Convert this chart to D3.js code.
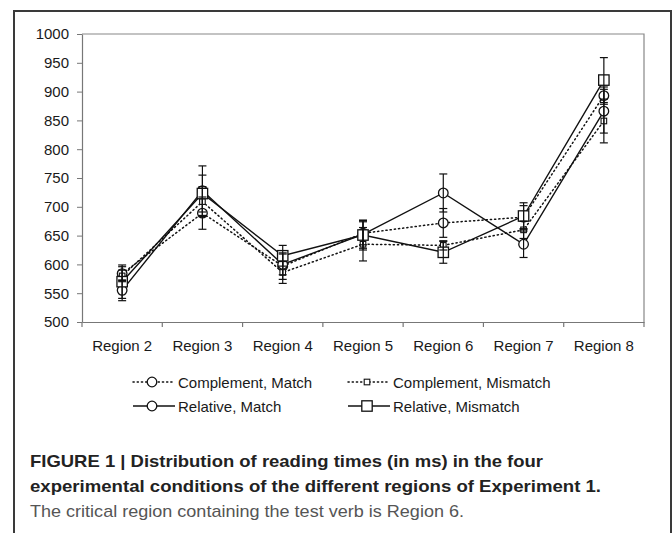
<!DOCTYPE html>
<html>
<head>
<meta charset="utf-8">
<script src="https://cdn.jsdelivr.net/npm/d3@7/dist/d3.min.js"></script>
<style>
  html, body { margin: 0; padding: 0; background: #fff; }
  svg { display: block; }
  text { font-family: Arial, "Liberation Sans", sans-serif; }
</style>
</head>
<body>
<script>
const categories = ["Region 2", "Region 3", "Region 4", "Region 5", "Region 6", "Region 7", "Region 8"];
const yTicks = [500, 550, 600, 650, 700, 750, 800, 850, 900, 950, 1000];
const seriesNames = ["Complement, Match", "Complement, Mismatch", "Relative, Match", "Relative, Mismatch"];

const compMatch        = [584, 689, 597, 654, 672, 682, 893];
const compMatchErr     = [12, 28, 23, 20, 25, 20, 15];
const compMismatch     = [580, 709, 586, 635, 633, 660, 849];
const compMismatchErr  = [10, 26, 19, 29, 8, 15, 38];
const relMatch         = [555, 728, 600, 652, 724, 635, 866];
const relMatchErr      = [18, 43, 18, 24, 33, 23, 38];
const relMismatch      = [570, 723, 615, 651, 621, 684, 920];
const relMismatchErr   = [29, 32, 18, 26, 19, 23, 39];

const captionBold = ["FIGURE 1 | Distribution of reading times (in ms) in the four",
                     "experimental conditions of the different regions of Experiment 1."];
const captionPlain = "The critical region containing the test verb is Region 6.";

(function () {
const series = [
  { name: seriesNames[0], values: compMatch, errs: compMatchErr, dotted: true, marker: "circle" },
  { name: seriesNames[1], values: compMismatch, errs: compMismatchErr, dotted: true, marker: "smallsq" },
  { name: seriesNames[2], values: relMatch, errs: relMatchErr, dotted: false, marker: "circle" },
  { name: seriesNames[3], values: relMismatch, errs: relMismatchErr, dotted: false, marker: "bigsq" }
];

const W = 672, H = 533;
const svg = d3.select("body").append("svg").attr("width", W).attr("height", H);
svg.append("rect").attr("width", W).attr("height", H).attr("fill", "#fff");

// outer frame
svg.append("rect").attr("x", 14).attr("y", 11).attr("width", 657).attr("height", 560)
  .attr("fill", "none").attr("stroke", "#3a3a3a").attr("stroke-width", 2);

const pL = 82, pR = 644, pT = 34, pB = 322;
const x = d3.scaleBand().domain(categories).range([pL, pR]);
const y = d3.scaleLinear().domain([500, 1000]).range([pB, pT]);
const cx = c => x(c) + x.bandwidth() / 2;

// plot border (top/right)
svg.append("path").attr("d", `M${pL},${pT}H${pR}V${pB}`)
  .attr("fill", "none").attr("stroke", "#888").attr("stroke-width", 1.2);

// y axis
const ya = svg.append("g").attr("transform", `translate(${pL},0)`)
  .call(d3.axisLeft(y).tickValues(yTicks).tickFormat(d3.format("d"))
    .tickSize(5).tickSizeOuter(0).tickPadding(8));
ya.select(".domain").attr("stroke", "#777").attr("stroke-width", 1.2);
ya.selectAll(".tick line").attr("stroke", "#777");
ya.selectAll("text").attr("font-size", 15).attr("fill", "#1a1a1a").style("font-family", "Arial, 'Liberation Sans', sans-serif");

// x axis
const xa = svg.append("g").attr("transform", `translate(0,${pB})`)
  .call(d3.axisBottom(x).tickSize(0).tickPadding(18).tickSizeOuter(0));
xa.select(".domain").attr("stroke", "#777").attr("stroke-width", 1.2);
xa.selectAll("text").attr("font-size", 15).attr("fill", "#1a1a1a").style("font-family", "Arial, 'Liberation Sans', sans-serif");
const bounds = categories.map(c => x(c)).concat([x.range()[1]]);
xa.selectAll("line.bt").data(bounds).enter().append("line").attr("class", "bt")
  .attr("x1", d => d).attr("x2", d => d).attr("y1", 0).attr("y2", 5)
  .attr("stroke", "#777").attr("stroke-width", 1.2);

// lines
const line = d3.line().x((d, i) => cx(categories[i])).y(d => y(d));
const plot = svg.append("g");
series.forEach(s => {
  plot.append("path").attr("d", line(s.values)).attr("fill", "none")
    .attr("stroke", "#111").attr("stroke-width", s.dotted ? 1.5 : 1.4)
    .attr("stroke-dasharray", s.dotted ? "1.2,3" : null)
    .attr("stroke-linecap", s.dotted ? "round" : "butt");
});

function drawMarker(g, type, px, py) {
  if (type === "circle") {
    g.append("circle").attr("cx", px).attr("cy", py).attr("r", 4.8)
      .attr("fill", "#fff").attr("stroke", "#111").attr("stroke-width", 1.3);
  } else if (type === "smallsq") {
    g.append("rect").attr("x", px - 2.8).attr("y", py - 2.8).attr("width", 5.6).attr("height", 5.6)
      .attr("fill", "#fff").attr("stroke", "#111").attr("stroke-width", 1.1);
  } else {
    g.append("rect").attr("x", px - 5.2).attr("y", py - 5.2).attr("width", 10.4).attr("height", 10.4)
      .attr("fill", "#fff").attr("stroke", "#111").attr("stroke-width", 1.3);
  }
}

// markers
series.forEach(s => {
  s.values.forEach((v, i) => drawMarker(plot, s.marker, cx(categories[i]), y(v)));
});

// error bars
series.forEach(s => {
  s.values.forEach((v, i) => {
    const px = cx(categories[i]);
    const y1 = y(v + s.errs[i]), y2 = y(v - s.errs[i]);
    plot.append("line").attr("x1", px).attr("x2", px).attr("y1", y1).attr("y2", y2)
      .attr("stroke", "#111").attr("stroke-width", 1.2);
    [y1, y2].forEach(yy => plot.append("line").attr("x1", px - 4).attr("x2", px + 4)
      .attr("y1", yy).attr("y2", yy).attr("stroke", "#111").attr("stroke-width", 1.2));
  });
});

// legend
const legPos = [[133, 382], [348, 382], [133, 406], [348, 406]];
series.forEach((s, i) => {
  const [lx, ly] = legPos[i];
  const g = svg.append("g");
  g.append("line").attr("x1", lx).attr("x2", lx + 42).attr("y1", ly).attr("y2", ly)
    .attr("stroke", "#111").attr("stroke-width", s.dotted ? 1.5 : 1.4)
    .attr("stroke-dasharray", s.dotted ? "1.2,3" : null)
    .attr("stroke-linecap", s.dotted ? "round" : "butt");
  drawMarker(g, s.marker, lx + 19, ly);
  g.append("text").attr("x", lx + 45).attr("y", ly + 5.5).attr("font-size", 15)
    .attr("fill", "#1a1a1a").text(s.name);
});

// caption
const capLens = [513, 571];
captionBold.forEach((t, i) => {
  svg.append("text").attr("x", 30).attr("y", 467 + i * 25).attr("font-size", 17)
    .attr("font-weight", "bold").attr("fill", "#222")
    .attr("textLength", capLens[i]).attr("lengthAdjust", "spacingAndGlyphs").text(t);
});
svg.append("text").attr("x", 30).attr("y", 517).attr("font-size", 17)
  .attr("fill", "#555").attr("textLength", 434).attr("lengthAdjust", "spacingAndGlyphs")
  .text(captionPlain);
})();
</script>
</body>
</html>
